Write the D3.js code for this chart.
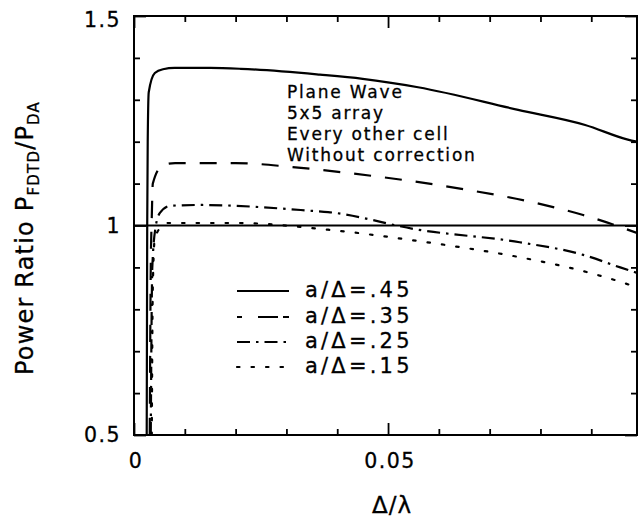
<!DOCTYPE html>
<html><head><meta charset="utf-8">
<script src="https://cdn.jsdelivr.net/npm/d3@7"></script>
<style>body{margin:0;background:#fff}</style>
</head><body><svg id="c" width="638" height="519"></svg>
<script>
// ---- data ----
const xDomain = [0, 0.099];
const yDomain = [0.5, 1.5];
const xMajorTicks = [0, 0.05];
const xTickLabels = ["0", "0.05"];
const xMinorTicks = [0.01, 0.02, 0.03, 0.04, 0.06, 0.07, 0.08, 0.09];
const yMajorTicks = [0.5, 1, 1.5];
const yTickLabels = ["0.5", "1", "1.5"];
const yMinorTicks = [0.6, 0.7, 0.8, 0.9, 1.1, 1.2, 1.3, 1.4];
const seriesNames = ["a/Δ=.45", "a/Δ=.35", "a/Δ=.25", "a/Δ=.15"];
const s45 = [[0.0025,0.5],[0.0026,1.0],[0.0027,1.2],[0.0029,1.318],[0.0041,1.364],[0.0057,1.373],[0.008,1.376],[0.015,1.376],[0.021,1.374],[0.0366,1.36],[0.045,1.35],[0.0559,1.33],[0.0756,1.276],[0.0888,1.24],[0.0972,1.205],[0.099,1.2]];
const s35 = [[0.0031,0.5],[0.0033,0.9],[0.0035,1.02],[0.0037,1.10],[0.0057,1.144],[0.0081,1.149],[0.02,1.149],[0.0307,1.14],[0.0402,1.128],[0.0657,1.085],[0.079,1.054],[0.0884,1.025],[0.0951,0.999],[0.099,0.982]];
const s25 = [[0.0033,0.5],[0.0036,0.9],[0.0043,1.0],[0.0051,1.03],[0.0071,1.047],[0.013,1.049],[0.035,1.035],[0.0382,1.032],[0.0559,0.99],[0.0759,0.96],[0.0884,0.93],[0.0957,0.90],[0.099,0.887]];
const s15 = [[0.0035,0.5],[0.0037,0.85],[0.0041,0.97],[0.0057,1.0],[0.0067,1.006],[0.02,1.006],[0.0382,0.99],[0.0559,0.963],[0.0756,0.925],[0.0818,0.91],[0.0897,0.887],[0.0976,0.858],[0.099,0.852]];
const annotation = ["Plane Wave", "5x5 array", "Every other cell", "Without correction"];
const refValue = 1;

// ---- drawing ----
const svg = d3.select("#c");
const L = 134, R = 637, T = 16, B = 435;
const x = d3.scaleLinear().domain(xDomain).range([L, R]);
const y = d3.scaleLinear().domain(yDomain).range([B, T]);
const font = "'DejaVu Sans', Verdana, sans-serif";
const dashes = [null, "17,14", "13,6,2.5,6", "2.5,12"];

svg.append("clipPath").attr("id","clip").append("rect")
  .attr("x", L).attr("y", T).attr("width", R-L).attr("height", B-T);

// curves
const line = d3.line().x(d=>x(d[0])).y(d=>y(d[1])).curve(d3.curveMonotoneX);
const g = svg.append("g").attr("clip-path","url(#clip)");
[s45, s35, s25, s15].forEach((s,i)=>{
  g.append("path").attr("d", line(s)).attr("fill","none").attr("stroke","#000")
    .attr("stroke-width", 2.2).attr("stroke-dasharray", dashes[i])
    .attr("stroke-linecap", i===3 ? "round" : "butt");
});
// reference line
g.append("line").attr("x1", x(xDomain[0])).attr("x2", x(xDomain[1]))
  .attr("y1", y(refValue)).attr("y2", y(refValue)).attr("stroke","#000").attr("stroke-width",2);

// frame
svg.append("rect").attr("x",L).attr("y",T).attr("width",R-L).attr("height",B-T)
  .attr("fill","none").attr("stroke","#000").attr("stroke-width",2);

// axes with inward ticks
const axB = d3.axisBottom(x).tickValues(xMinorTicks).tickSize(-6).tickFormat("");
const axT = d3.axisTop(x).tickValues(xMinorTicks).tickSize(-6).tickFormat("");
const axBM = d3.axisBottom(x).tickValues(xMajorTicks).tickSize(-12).tickFormat("");
const axTM = d3.axisTop(x).tickValues(xMajorTicks).tickSize(-12).tickFormat("");
const axL = d3.axisLeft(y).tickValues(yMinorTicks).tickSize(-6).tickFormat("");
const axRr = d3.axisRight(y).tickValues(yMinorTicks).tickSize(-6).tickFormat("");
const axLM = d3.axisLeft(y).tickValues(yMajorTicks).tickSize(-12).tickFormat("");
const axRM = d3.axisRight(y).tickValues(yMajorTicks).tickSize(-12).tickFormat("");
[[axB,`translate(0,${B})`],[axBM,`translate(0,${B})`],[axT,`translate(0,${T})`],[axTM,`translate(0,${T})`],
 [axL,`translate(${L},0)`],[axLM,`translate(${L},0)`],[axRr,`translate(${R},0)`],[axRM,`translate(${R},0)`]]
 .forEach(([a,t])=>{
   const gg = svg.append("g").attr("transform",t).call(a);
   gg.select(".domain").remove();
   gg.selectAll("line").attr("stroke","#000").attr("stroke-width",1.8);
 });

// tick labels
xMajorTicks.forEach((v,i)=>{
  svg.append("text").attr("x", x(v)+ (i===0?2:2)).attr("y", 468).attr("text-anchor","middle")
    .attr("font-family",font).attr("font-size",20.5).attr("letter-spacing",1.5)
    .attr("stroke","#000").attr("stroke-width",0.3).text(xTickLabels[i]);
});
yMajorTicks.forEach((v,i)=>{
  svg.append("text").attr("x", 121).attr("y", Math.max(y(v), 20)).attr("dy","0.36em").attr("text-anchor","end")
    .attr("font-family",font).attr("font-size",20.5).attr("letter-spacing",1.5)
    .attr("stroke","#000").attr("stroke-width",0.3).text(yTickLabels[i]);
});

// axis titles
svg.append("text").attr("x", 392).attr("y", 513).attr("text-anchor","middle")
  .attr("font-family",font).attr("font-size",23).attr("letter-spacing",1)
  .attr("stroke","#000").attr("stroke-width",0.3).text("Δ/λ");
const yl = svg.append("text").attr("transform","translate(33,238) rotate(-90)").attr("text-anchor","middle")
  .attr("font-family",font).attr("font-size",24).attr("letter-spacing",1.2)
  .attr("stroke","#000").attr("stroke-width",0.3);
yl.append("tspan").text("Power Ratio P");
yl.append("tspan").attr("font-size",15).attr("dy",6).text("FDTD");
yl.append("tspan").attr("dy",-6).text("/P");
yl.append("tspan").attr("font-size",15).attr("dy",6).text("DA");

// annotation
annotation.forEach((t,i)=>{
  svg.append("text").attr("x",287).attr("y",98+i*21).attr("font-family",font)
    .attr("font-size",17).attr("letter-spacing",1.8)
    .attr("stroke","#000").attr("stroke-width",0.3).text(t);
});

// legend
const legY = [291, 317, 342, 367];
seriesNames.forEach((n,i)=>{
  svg.append("line").attr("x1",237).attr("x2",289).attr("y1",legY[i]).attr("y2",legY[i])
    .attr("stroke","#000").attr("stroke-width",2.2).attr("stroke-dasharray", i===1 ? "5,16,20" : i===2 ? "13,6,2.5,6" : dashes[i])
    .attr("stroke-linecap", i===3 ? "round" : "butt");
  svg.append("text").attr("x",305).attr("y",legY[i]+6).attr("font-family",font)
    .attr("font-size",21).attr("letter-spacing",3.2)
    .attr("stroke","#000").attr("stroke-width",0.3).text(n);
});
</script></body></html>
